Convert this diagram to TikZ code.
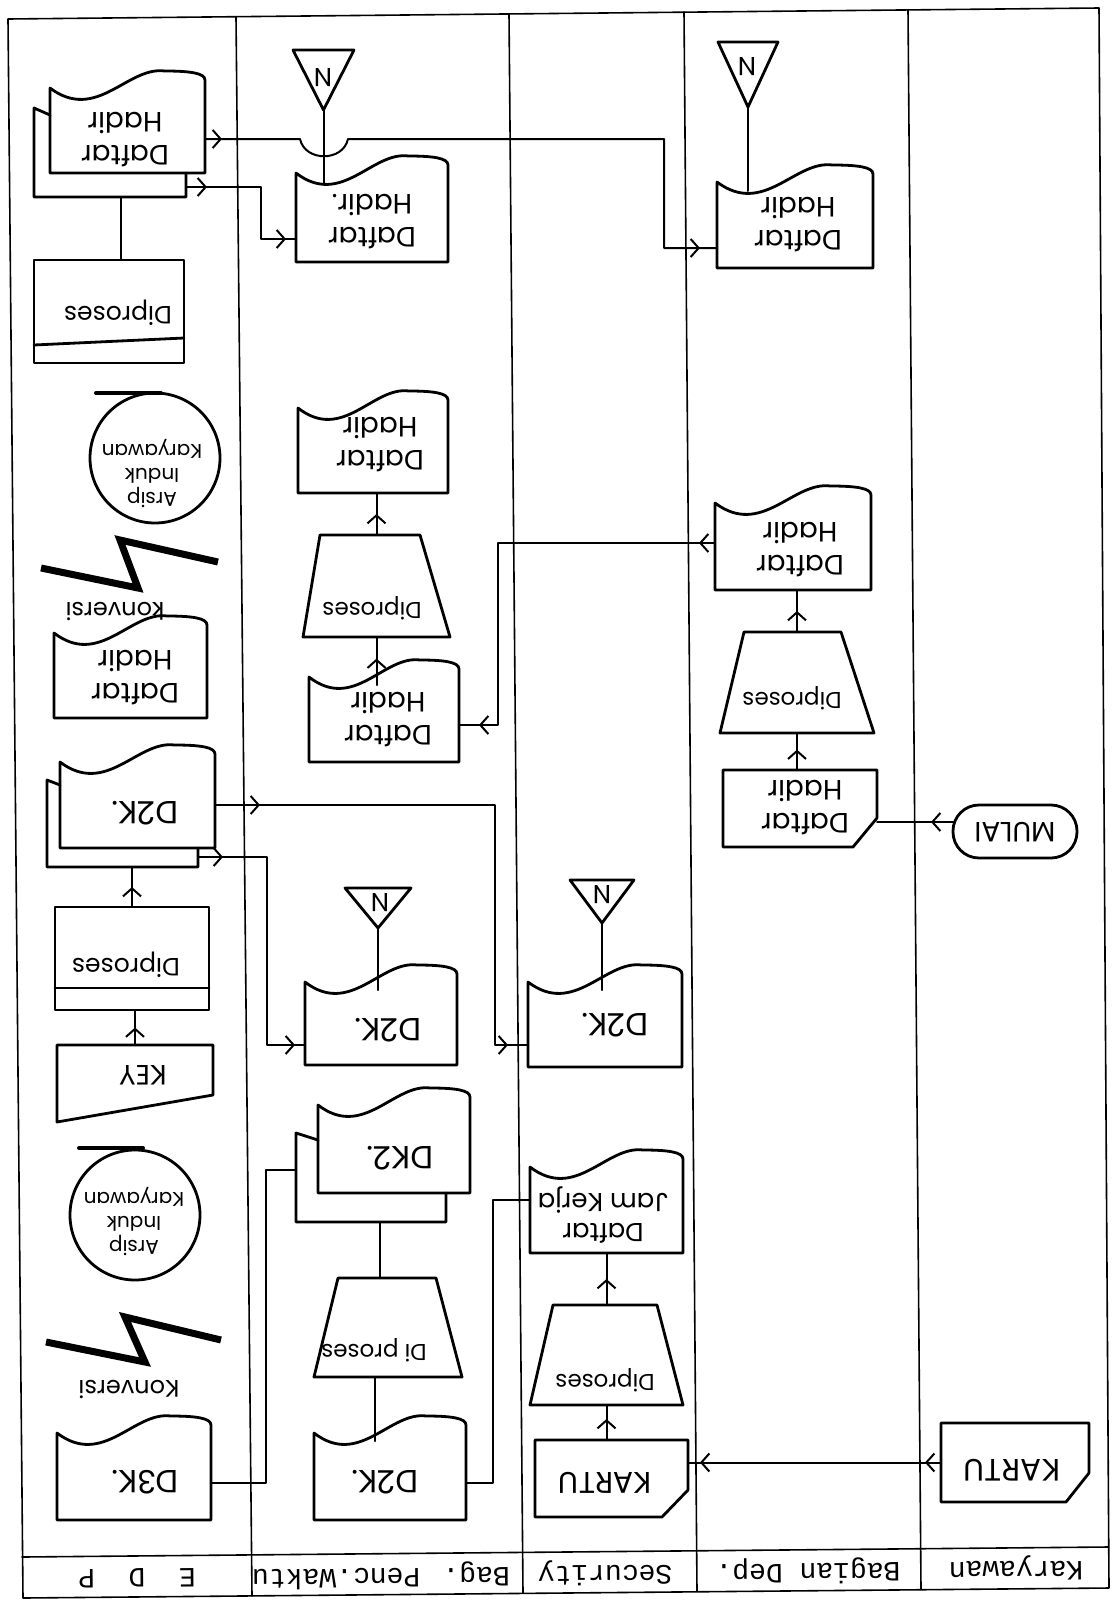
\documentclass[tikz,border=0pt]{standalone}
\usepackage{fontspec}
\newfontfamily\handfont{Poppins}
\newfontfamily\typefont{Liberation Mono}
\usetikzlibrary{arrows.meta,decorations.markings,calc}
\newcommand\hf[2]{\handfont\fontsize{#1pt}{#2pt}\selectfont}
\tikzset{
  hitbox/.style={inner sep=0pt,outer sep=0pt,draw=none,rectangle},
  shp/.style={line width=1.4pt},
  frameline/.style={line width=0.8pt},
  con/.style={line width=1pt},
  barb/.tip={Straight Barb[length=4pt,width=9pt,line width=1pt]},
  arr/.style={postaction={decorate},decoration={markings,mark=at position #1 with {\arrow{barb}}}},
  arrr/.style 2 args={postaction={decorate},decoration={markings,mark=at position #1 with {\arrow{barb}},mark=at position #2 with {\arrow{barb}}}},
  hand/.style={rotate=180,align=center,inner sep=0pt},
  typed/.style={rotate=180.5,inner sep=0pt,font=\typefont\fontsize{14pt}{16pt}\selectfont},
}
% document: name x1 ytop x2 ybot
\newcommand\Doc[5]{%
  \draw[shp] (#2,#5) -- (#2,#3) .. controls ({#2+0.3*(#4-#2)},{#3+35}) and ({#2+0.5*(#4-#2)},{#3-22}) .. ({#2+0.74*(#4-#2)},{#3-17}) .. controls ({#2+0.9*(#4-#2)},{#3-17}) and (#4,{#3-15}) .. (#4,{#3-8}) -- (#4,#5) -- cycle;
  \node[hitbox,minimum width={(#4-#2)*0.5pt},minimum height={(#5-#3)*0.5pt}] (#1) at ({(#2+#4)/2},{(#3+#5)/2}) {};}
% back copy: name xfront ydiag xbl ybt ybb xbr yfb
\newcommand\Back[8]{%
  \draw[shp] (#2,#3) -- (#4,#5) -- (#4,#6) -- (#7,#6) -- (#7,#8);
  \node[hitbox,minimum width={(#7-#4)*0.5pt},minimum height={(#6-#5)*0.5pt}] (#1) at ({(#4+#7)/2},{(#5+#6)/2}) {};}
% trapezoid: name ytop xtl xtr ybot xbl xbr
\newcommand\Trap[7]{%
  \draw[shp] (#6,#5) -- (#3,#2) -- (#4,#2) -- (#7,#5) -- cycle;
  \node[hitbox,minimum width={(#7-#6)*0.5pt},minimum height={(#5-#2)*0.5pt}] (#1) at ({(#6+#7)/2},{(#2+#5)/2}) {};}
% card: name x1 y1 x2 y2 ycut xcut
\newcommand\Card[7]{%
  \draw[shp] (#2,#3) -- (#4,#3) -- (#4,#6) -- (#7,#5) -- (#2,#5) -- cycle;
  \node[hitbox,minimum width={(#4-#2)*0.5pt},minimum height={(#5-#3)*0.5pt}] (#1) at ({(#2+#4)/2},{(#3+#5)/2}) {};}
% triangle: name x1 ytop x2 yapex
\newcommand\Tri[5]{%
  \draw[shp] (#2,#3) -- (#4,#3) -- ({(#2+#4)/2},#5) -- cycle;
  \node[hitbox,minimum width={(#4-#2)*0.5pt},minimum height={(#5-#3)*0.5pt}] (#1) at ({(#2+#4)/2},{(#3+#5)/2}) {};}
\begin{document}
\begin{tikzpicture}[x=0.5pt,y=-0.5pt,line join=round,line cap=round]
\useasboundingbox (0,0) rectangle (1112,1601);
\fill[white] (0,0) rectangle (1112,1601);

% ---------- frame and lanes ----------
\draw[frameline] (8,19) -- (1099,8) -- (1109,1588) -- (23,1598) -- cycle;
\draw[frameline] (22,1557) -- (1108,1547);
\draw[frameline] (236,17) -- (252,1596);
\draw[frameline] (509,14) -- (523,1593);
\draw[frameline] (684,12) -- (697,1591);
\draw[frameline] (908,10) -- (921,1589);
\node[typed] (hEDP) at (137,1578) {E\ \ D\ \ P};
\node[typed] (hPenc) at (381,1576) {Bag. Penc.Waktu};
\node[typed] (hSec) at (605,1573) {Security};
\node[typed] (hDep) at (808,1571) {Bagian Dep.};
\node[typed] (hKar) at (1016,1568) {Karyawan};

% ---------- EDP lane ----------
\Doc{mdA}{50}{88}{205}{173}
\Back{mdAb}{50}{115}{34}{108}{197}{186}{173}
\draw[shp] (34,260) rectangle (184,363);
\draw[shp] (34,345) -- (184,338);
\node[hitbox,minimum width=75pt,minimum height=51.5pt] (diprA) at (109,311.5) {};
\node[circle,draw,shp,minimum size=65pt,inner sep=0pt] (arsipA) at (155,458) {};
\draw[line width=2pt] (96,393) -- (161,393);
\draw[line width=3.5pt,line join=miter,line cap=butt] (218,562) -- (120,540) -- (138,588) -- (41,568);
\Doc{dhE}{54}{633}{207}{718}
\Doc{mdB}{60}{762}{215}{848}
\Back{mdBb}{60}{785}{47}{780}{867}{198}{848}
\draw[shp] (55,907) rectangle (209,1010);
\draw[shp] (55,988) -- (209,988);
\node[hitbox,minimum width=77pt,minimum height=51.5pt] (diprB) at (132,958.5) {};
\draw[shp] (57,1045) -- (213,1045) -- (213,1095) -- (57,1122) -- cycle;
\node[hitbox,minimum width=78pt,minimum height=38.5pt] (key) at (135,1083.5) {};
\node[circle,draw,shp,minimum size=65pt,inner sep=0pt] (arsipB) at (135,1215) {};
\draw[line width=2pt] (79,1148) -- (143,1148);
\draw[line width=3.5pt,line join=miter,line cap=butt] (221,1340) -- (125,1317) -- (145,1362) -- (46,1342);
\Doc{d3k}{57}{1433}{211}{1520}

% ---------- Bag. Penc. Waktu lane ----------
\Tri{nA}{293}{50}{354}{110}
\Doc{dhP1}{296}{173}{448}{262}
\Doc{dhP2}{298}{408}{448}{493}
\Trap{trP1}{535}{320}{420}{637}{303}{450}
\Doc{dhP3}{309}{677}{459}{762}
\Tri{nB}{345}{888}{411}{928}
\Doc{d2kP}{305}{982}{457}{1065}
\Doc{mdC}{318}{1105}{470}{1193}
\Back{mdCb}{318}{1140}{296}{1133}{1222}{446}{1193}
\Trap{trP2}{1278}{338}{436}{1377}{314}{462}
\Doc{d2kP2}{314}{1433}{466}{1520}

% ---------- Security lane ----------
\Tri{nC}{570}{880}{634}{923}
\Doc{d2kS}{528}{982}{682}{1067}
\Doc{djk}{530}{1167}{683}{1253}
\Trap{trS}{1305}{553}{657}{1405}{530}{683}
\Card{kartuS}{535}{1440}{688}{1517}{1490}{662}

% ---------- Bagian Dep. lane ----------
\Tri{nD}{718}{42}{778}{107}
\Doc{dhD1}{717}{182}{873}{268}
\Doc{dhD2}{715}{503}{871}{590}
\Trap{trD}{632}{744}{841}{733}{720}{874}
\Card{dhD3}{723}{770}{877}{847}{818}{853}

% ---------- Karyawan lane ----------
\draw[shp,rounded corners=13pt] (953,805) rectangle (1077,858);
\node[hitbox,minimum width=62pt,minimum height=26.5pt] (mulai) at (1015,831.5) {};
\Card{kartuK}{941}{1423}{1089}{1502}{1473}{1066}

% ---------- texts ----------
\node[hand,font={\hf{14}{16.5}}] (tmdA) at (125,140) {Daftar\\Hadir};
\node[hand,font={\hf{14}{16.5}}] (tdhP1) at (372,222) {Daftar\\Hadir.};
\node[hand,font={\hf{12.5}{15}}] (tdiprA) at (118,313) {Diproses};
\node[hand,font={\hf{14}{16.5}}] (tdhD1) at (798,225) {Daftar\\Hadir};
\node[hand,font={\hf{10}{12}}] (tarsA) at (152,474) {Arsip\\Induk\\Karyawan};
\node[hand,font={\hf{12}{14}}] (tkonvA) at (115,612) {konversi};
\node[hand,font={\hf{14}{16.5}}] (tdhE) at (135,678) {Daftar\\Hadir};
\node[hand,font={\hf{14}{16.5}}] (tdhP2) at (380,445) {Daftar\\Hadir};
\node[hand,font={\hf{11.5}{14}}] (ttrP1) at (372,608) {Diproses};
\node[hand,font={\hf{14}{16.5}}] (tdhP3) at (388,720) {Daftar\\Hadir};
\node[hand,font={\hf{14}{16.5}}] (tdhD2) at (800,550) {Daftar\\Hadir};
\node[hand,font={\hf{11.5}{14}}] (ttrD) at (792,698) {Diproses};
\node[hand,font={\hf{14}{16.5}}] (tdhD3) at (805,808) {Daftar\\Hadir};
\node[hand,font={\hf{14}{16}}] (tmulai) at (1015,832) {MULAI};
\node[hand,font={\hf{16}{18}}] (tmdB) at (145,813) {D2K.};
\node[hand,font={\hf{16}{18}}] (td2kS) at (615,1025) {D2K.};
\node[hand,font={\hf{16}{18}}] (td2kP) at (388,1030) {D2K.};
\node[hand,font={\hf{12.5}{15}}] (tdiprB) at (126,965) {Diproses};
\node[hand,font={\hf{14}{16}}] (tkey) at (143,1075) {KEY};
\node[hand,font={\hf{16}{18}}] (tmdC) at (400,1158) {DK2.};
\node[hand,font={\hf{10}{12}}] (tarsB) at (134,1222) {Arsip\\Induk\\Karyawan};
\node[hand,font={\hf{13}{15}}] (tdjk) at (603,1215) {Daftar\\Jam Kerja};
\node[hand,font={\hf{11.5}{14}}] (ttrP2) at (374,1350) {Di proses};
\node[hand,font={\hf{11.5}{14}}] (ttrS) at (605,1380) {Diproses};
\node[hand,font={\hf{12}{14}}] (tkonvB) at (129,1390) {Konversi};
\node[hand,font={\hf{16}{18}}] (td3k) at (145,1482) {D3K.};
\node[hand,font={\hf{16}{18}}] (td2kP2) at (385,1482) {D2K.};
\node[hand,font={\hf{15}{17}}] (tkartuS) at (605,1483) {KARTU};
\node[hand,font={\hf{15.5}{17}}] (tkartuK) at (1012,1470) {KARTU};
\node[hand,font={\hf{13}{15}}] (tnA) at (323,78) {N};
\node[hand,font={\hf{13}{15}}] (tnD) at (747,67) {N};
\node[hand,font={\hf{13}{15}}] (tnB) at (380,903) {N};
\node[hand,font={\hf{13}{15}}] (tnC) at (602,895) {N};

% ---------- connectors ----------
\draw[con,arrr={8.5pt}{-8.5pt}] ($(mdA.east)+(0,8.5)$) -- (300,139) .. controls (305,162) and (343,162) .. (348,139) -- (664,139) |- ($(dhD1.west)+(0,23)$);
\draw[con,arrr={10.5pt}{-5pt}] ($(mdAb.east)+(0,34.5)$) -- (261,187) |- ($(dhP1.west)+(0,21.5)$);
\draw[con] (nA.south) -- ($(nA.south |- dhP1.north)+(0,10)$);
\draw[con] (nD.south) -- ($(nD.south |- dhD1.north)+(0,9)$);
\draw[con] ($(diprA.north)+(12,0)$) -- ($(diprA.north |- mdAb.south)+(12,0)$);
\draw[con,arr=0.5] (trP1.north) -- (trP1.north |- dhP2.south);
\draw[con,arr=0.55] ($(trP1.south |- dhP3.north)+(0,8)$) -- (trP1.south);
\draw[con,arrr={8pt}{-10pt}] ($(dhD2.west)+(0,-3.5)$) -- (498,543) |- ($(dhP3.east)+(0,5.5)$);
\draw[con,arr=0.5] (trD.north) -- (trD.north |- dhD2.south);
\draw[con,arr=0.55] (trD.south |- dhD3.north) -- (trD.south);
\draw[con,arr={11pt}] ($(mulai.west)+(0,-9.5)$) -- ($(mulai.west -| dhD3.east)+(0,-9.5)$);
\draw[con,arrr={22.5pt}{-10pt}] (mdB.east) -- (495,805) |- ($(d2kS.west)+(0,20.5)$);
\draw[con,arrr={12.5pt}{-5pt}] ($(mdBb.east)+(0,33.5)$) -- (267,857) |- ($(d2kP.west)+(0,21.5)$);
\draw[con] (nB.south) -- ($(nB.south |- d2kP.north)+(0,8)$);
\draw[con] (nC.south) -- ($(nC.south |- d2kS.north)+(0,8)$);
\draw[con,arr=0.5] (diprB.north) -- (diprB.north |- mdBb.south);
\draw[con,arr=0.5] (key.north) -- (key.north |- diprB.south);
\draw[con] ($(d3k.east)+(0,6.5)$) -- (266,1483) |- ($(mdCb.west)+(0,-7.5)$);
\draw[con] ($(mdCb.south)+(9,0)$) -- ($(mdCb.south |- trP2.north)+(9,0)$);
\draw[con] ($(trP2.south)+(-13,0)$) -- ($(trP2.south |- d2kP2.north)+(-13,8)$);
\draw[con] ($(d2kP2.east)+(0,6.5)$) -- (493,1483) |- ($(djk.west)+(0,-10)$);
\draw[con,arr=0.5] (trS.north) -- (trS.north |- djk.south);
\draw[con,arr=0.6] (trS.south |- kartuS.north) -- (trS.south);
\draw[con,arrr={8pt}{-6pt}] (kartuK.west) -- (kartuK.west -| kartuS.east);
\end{tikzpicture}
\end{document}
